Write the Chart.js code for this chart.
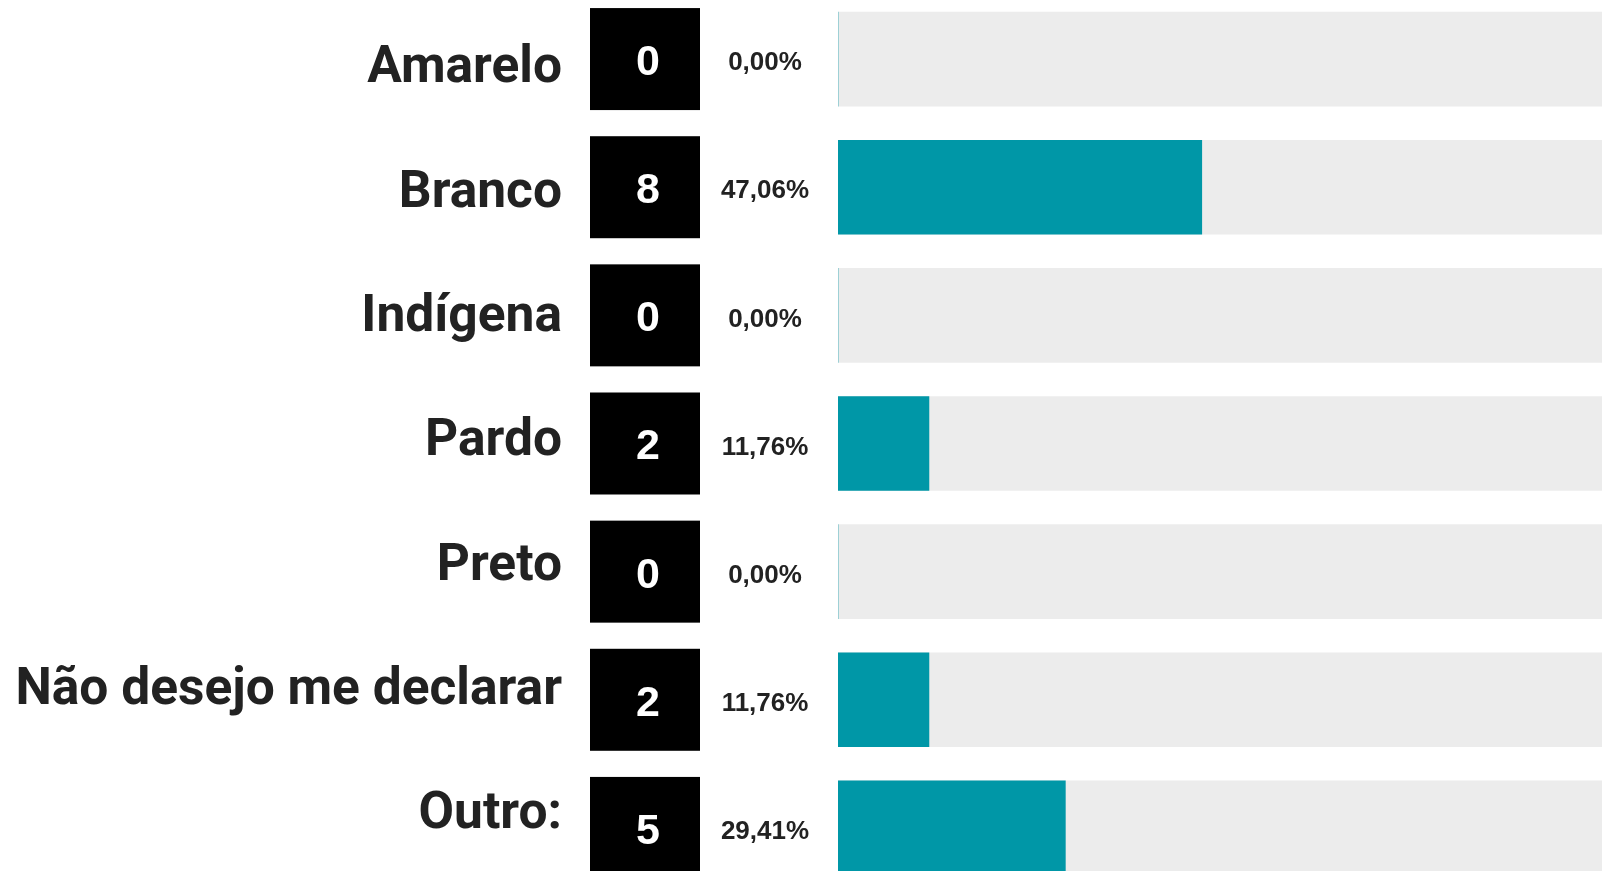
<!DOCTYPE html>
<html lang="pt">
<head>
<meta charset="utf-8">
<title>Cor / raça</title>
<script src="https://cdn.jsdelivr.net/npm/chart.js@4/dist/chart.umd.min.js"></script>
<style>
  html, body { margin: 0; padding: 0; background: #fff; overflow: hidden; }
  #wrap { position: absolute; left: 0; top: -5px; width: 1620px; height: 897px; }
</style>
</head>
<body>
<div id="wrap"><canvas id="raceChart"></canvas></div>
<script>
const categories = ["Amarelo", "Branco", "Indígena", "Pardo", "Preto", "Não desejo me declarar", "Outro:"];
const counts = [0, 8, 0, 2, 0, 2, 5];
const fullTrack = [100, 100, 100, 100, 100, 100, 100];

const total = counts.reduce((a, b) => a + b, 0);
const percents = counts.map(c => total ? c / total * 100 : 0);
const fmtPct = v => v.toFixed(2).replace(".", ",") + "%";

// black count box + percent text next to each row
const countBoxes = {
  id: "countBoxes",
  afterDatasetsDraw(chart) {
    const ctx = chart.ctx;
    const y = chart.scales.y;
    ctx.save();
    counts.forEach((c, i) => {
      const cy = y.getPixelForValue(i);
      ctx.fillStyle = "#000";
      ctx.fillRect(590, cy - 51, 110, 102);
      ctx.fillStyle = "#fff";
      ctx.font = "bold 43px 'Liberation Sans', Arial, sans-serif";
      ctx.textAlign = "center";
      ctx.textBaseline = "middle";
      ctx.fillText(String(c), 648, cy + 4);
      ctx.fillStyle = "#222";
      ctx.font = "bold 26px 'Liberation Sans', Arial, sans-serif";
      ctx.fillText(fmtPct(percents[i]), 765, cy + 4);
    });
    ctx.restore();
  }
};

new Chart(document.getElementById("raceChart"), {
  type: "bar",
  data: {
    labels: categories,
    datasets: [
      { data: percents, backgroundColor: "#0097a7", barThickness: 94, grouped: false },
      { data: fullTrack, backgroundColor: "#ececec", barThickness: 94, grouped: false }
    ]
  },
  options: {
    indexAxis: "y",
    responsive: true,
    maintainAspectRatio: false,
    animation: false,
    layout: { padding: { top: 0, bottom: 0, left: 0, right: 9 } },
    plugins: { legend: { display: false }, tooltip: { enabled: false } },
    scales: {
      x: { display: false, min: 0, max: 100 },
      y: { display: false },
      // labels sit on their own scale: their spacing is a bit tighter than the bars
      yl: {
        type: "linear",
        position: "left",
        reverse: true,
        offset: false,
        min: -0.599,
        max: 6.616,
        grid: { display: false, drawTicks: false },
        border: { display: false },
        afterBuildTicks: s => { s.ticks = categories.map((_, i) => ({ value: i })); },
        afterFit: s => {
          s.width = 838;
          s.paddingTop = 0;
          s.paddingBottom = 0;
        },
        ticks: {
          padding: 276,
          color: "#222",
          font: { family: "Roboto", weight: "bold", size: 51.5 },
          callback: v => categories[v] || ""
        }
      }
    }
  },
  plugins: [countBoxes]
});
</script>
</body>
</html>
